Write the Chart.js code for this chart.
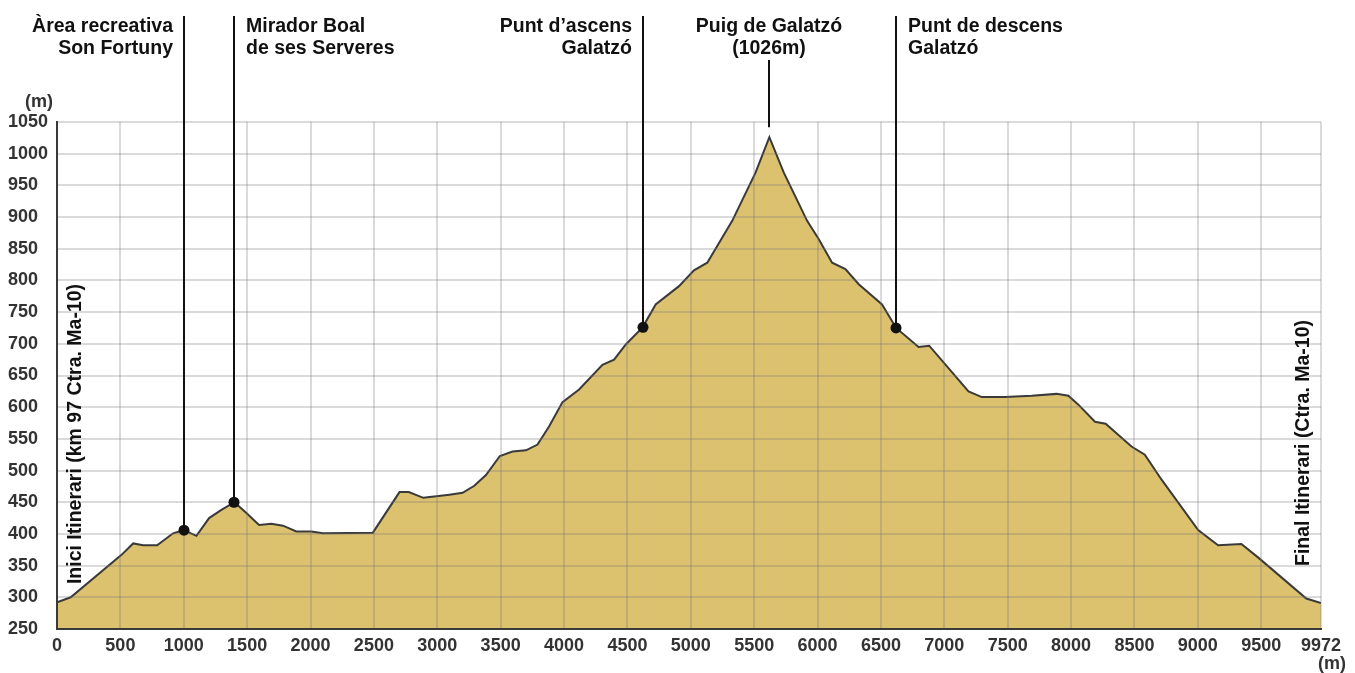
<!DOCTYPE html>
<html>
<head>
<meta charset="utf-8">
<script src="https://cdn.jsdelivr.net/npm/chart.js@4.4.1/dist/chart.umd.min.js"></script>
<style>
  html, body { margin: 0; padding: 0; background: #fff; }
  canvas { display: block; }
</style>
</head>
<body>
<canvas id="profile" width="1355" height="673"></canvas>
<script>
// elevation profile (m)
const distance = [0, 108, 509, 601, 680, 790, 916, 1000, 1100, 1200, 1297, 1400, 1494, 1594, 1691, 1783, 1888, 2006, 2098, 2492,
  2702, 2775, 2890, 3095, 3200, 3292, 3384, 3494, 3594, 3700, 3791, 3883, 3988, 4119, 4303, 4395, 4487, 4620, 4723, 4907,
  5025, 5130, 5327, 5511, 5620, 5734, 5918, 6010, 6115, 6220, 6325, 6509, 6620, 6797, 6881, 7191, 7296, 7480, 7689, 7886,
  7979, 8058, 8189, 8273, 8477, 8582, 8713, 9003, 9160, 9344, 9475, 9856, 9972];
const elevation = [292, 300, 367, 385, 382, 382, 401, 406, 397, 425, 438, 450, 433, 414, 416, 413, 404, 404, 401, 402,
  466, 466, 457, 462, 465, 476, 493, 523, 530, 532, 541, 570, 608, 628, 667, 675, 699, 726, 762, 791,
  816, 828, 894, 970, 1026, 970, 894, 865, 828, 818, 794, 762, 725, 695, 697, 625, 616, 616, 618, 621,
  618, 604, 577, 574, 538, 525, 486, 406, 382, 384, 363, 298, 291];

const xTicks = [0, 500, 1000, 1500, 2000, 2500, 3000, 3500, 4000, 4500, 5000, 5500, 6000, 6500, 7000, 7500, 8000, 8500, 9000, 9500, 9972];
const yMin = 250;
const yMax = 1050;
const yStep = 50;

// points of interest
const markerDist = [1000, 1400, 4620, 6620];
const markerElev = [406, 450, 726, 725];
const markerLabels = [
  ['Àrea recreativa', 'Son Fortuny'],
  ['Mirador Boal', 'de ses Serveres'],
  ['Punt d’ascens', 'Galatzó'],
  ['Punt de descens', 'Galatzó']
];
const markerSide = ['right', 'left', 'right', 'left'];
const peakDist = 5620;
const peakElev = 1026;
const peakLabel = ['Puig de Galatzó', '(1026m)'];
const startLabel = 'Inici Itinerari (km 97 Ctra. Ma-10)';
const endLabel = 'Final Itinerari (Ctra. Ma-10)';

const FONT = '"Liberation Sans", Arial, Helvetica, sans-serif';

const annotations = {
  id: 'annotations',
  afterDraw(chart) {
    const { ctx, chartArea } = chart;
    const x = chart.scales.x;
    const y = chart.scales.y;
    ctx.save();
    ctx.strokeStyle = '#111';
    ctx.fillStyle = '#111';
    ctx.lineWidth = 2;
    ctx.font = 'bold 19.5px ' + FONT;
    ctx.textBaseline = 'alphabetic';

    markerDist.forEach((d, i) => {
      const px = Math.round(x.getPixelForValue(d));
      const py = y.getPixelForValue(markerElev[i]);
      ctx.beginPath();
      ctx.moveTo(px, 16);
      ctx.lineTo(px, py);
      ctx.stroke();
      ctx.beginPath();
      ctx.arc(px, py, 5.5, 0, Math.PI * 2);
      ctx.fill();
      ctx.textAlign = markerSide[i];
      const tx = markerSide[i] === 'right' ? px - 11 : px + 12;
      markerLabels[i].forEach((t, j) => ctx.fillText(t, tx, 32 + j * 21.5));
    });

    // summit: short tick above the peak
    const pk = Math.round(x.getPixelForValue(peakDist));
    ctx.beginPath();
    ctx.moveTo(pk, 60);
    ctx.lineTo(pk, y.getPixelForValue(peakElev) - 10);
    ctx.stroke();
    ctx.textAlign = 'center';
    peakLabel.forEach((t, j) => ctx.fillText(t, pk, 32 + j * 21.5));

    // start / end labels, rotated
    ctx.textBaseline = 'middle';
    ctx.save();
    ctx.translate(chartArea.left + 19, 434);
    ctx.rotate(-Math.PI / 2);
    ctx.fillText(startLabel, 0, 0);
    ctx.restore();
    ctx.save();
    ctx.translate(chartArea.right - 17, 443);
    ctx.rotate(-Math.PI / 2);
    ctx.fillText(endLabel, 0, 0);
    ctx.restore();

    // unit labels
    ctx.fillStyle = '#333';
    ctx.font = 'bold 18px ' + FONT;
    ctx.textBaseline = 'alphabetic';
    ctx.textAlign = 'center';
    ctx.fillText('(m)', 39, 107);
    ctx.textAlign = 'right';
    ctx.fillText('(m)', 1346, 669);
    ctx.restore();
  }
};

new Chart(document.getElementById('profile'), {
  type: 'line',
  data: {
    datasets: [{
      data: distance.map((d, i) => ({ x: d, y: elevation[i] })),
      borderColor: '#3a3a3a',
      borderWidth: 2,
      backgroundColor: '#dcc16e',
      fill: 'start',
      pointRadius: 0,
      tension: 0
    }]
  },
  options: {
    responsive: false,
    animation: false,
    devicePixelRatio: 1,
    layout: { padding: { top: 122, right: 34, left: 8, bottom: 0 } },
    plugins: { legend: { display: false }, tooltip: { enabled: false } },
    scales: {
      x: {
        type: 'linear',
        min: 0,
        max: 9972,
        afterBuildTicks: (scale) => { scale.ticks = xTicks.map(v => ({ value: v })); },
        afterFit: (scale) => { scale.height = 44; },
        grid: { color: 'rgba(120,120,120,0.27)', lineWidth: 2, drawTicks: false, z: 1 },
        border: { color: '#3a3a3a', width: 2, z: 2 },
        ticks: {
          autoSkip: false,
          maxRotation: 0,
          padding: 6,
          color: '#333',
          font: { family: FONT, size: 18, weight: 'bold' },
          callback: (v) => String(v)
        }
      },
      y: {
        min: yMin,
        max: yMax,
        afterFit: (scale) => { scale.width = 49; },
        grid: { color: 'rgba(120,120,120,0.27)', lineWidth: 2, drawTicks: false, z: 1 },
        border: { color: '#3a3a3a', width: 2, z: 2 },
        ticks: {
          stepSize: yStep,
          crossAlign: 'far',
          color: '#333',
          font: { family: FONT, size: 18, weight: 'bold' },
          callback: (v) => String(v)
        }
      }
    }
  },
  plugins: [annotations]
});
</script>
</body>
</html>
